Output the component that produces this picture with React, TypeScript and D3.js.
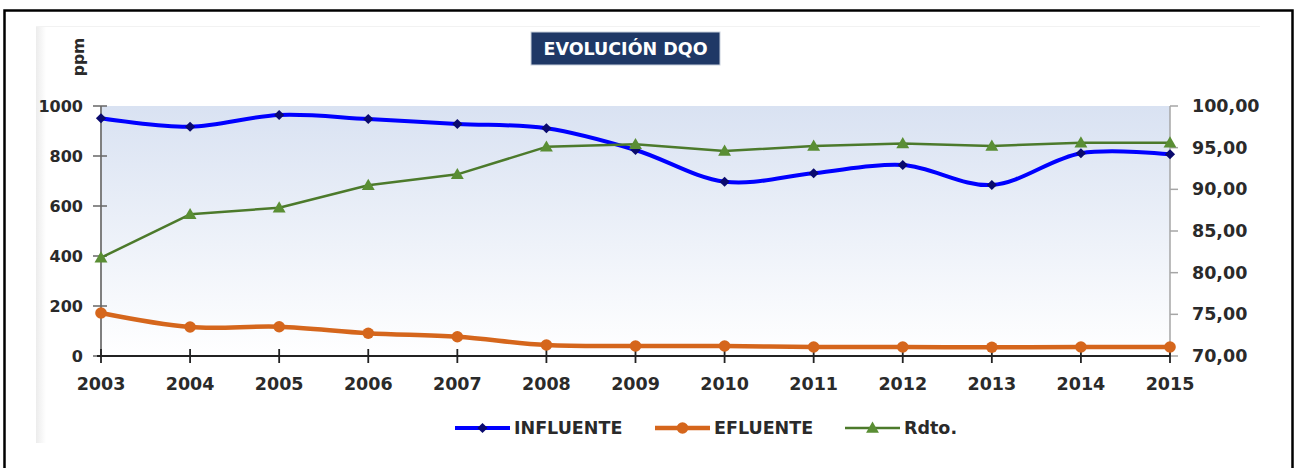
import React from 'react';
import * as d3 from 'd3';

const years = [2003, 2004, 2005, 2006, 2007, 2008, 2009, 2010, 2011, 2012, 2013, 2014, 2015];
const influente = [951, 917, 964, 948, 928, 911, 824, 697, 731, 764, 684, 811, 807];
const efluente = [172, 116, 117, 91, 77, 44, 40, 40, 36, 36, 35, 36, 36];
const rdto = [81.8, 87.0, 87.8, 90.5, 91.8, 95.1, 95.4, 94.6, 95.2, 95.5, 95.2, 95.6, 95.6];
const leftTicks = [0, 200, 400, 600, 800, 1000];
const rightTicks = [70, 75, 80, 85, 90, 95, 100];
const seriesNames = ['INFLUENTE', 'EFLUENTE', 'Rdto.'];
const title = 'EVOLUCIÓN DQO';
const yLabel = 'ppm';

const W = 1295;
const H = 468;
const FONT = 'DejaVu Sans, Verdana, sans-serif';
const BLUE = '#0000ff';
const NAVY = '#0a0a6e';
const ORANGE = '#d5661c';
const GREEN = '#4c7a2b';
const GREEN_M = '#5a8e34';
const TXT = '#2a2a2a';

export default function App() {
  const x = d3.scalePoint<number>().domain(years).range([101, 1170]);
  const yL = d3.scaleLinear().domain([0, 1000]).range([356, 106]);
  const yR = d3.scaleLinear().domain([70, 100]).range([356, 106]);
  const [x0, x1] = x.range();
  const [yb, yt] = yL.range();

  const smooth = d3.line<number>()
    .x((_, i) => x(years[i])!)
    .y((d) => yL(d))
    .curve(d3.curveCatmullRom.alpha(0.5));
  const lineR = d3.line<number>()
    .x((_, i) => x(years[i])!)
    .y((d) => yR(d));

  const diamond = d3.symbol(d3.symbolSquare, 52)();
  const tri = d3.symbol(d3.symbolTriangle, 72)();
  const fmtR = (v: number) => d3.format('.2f')(v).replace('.', ',');

  const legend = [
    { name: seriesNames[0], x: 455, color: BLUE, w: 4, kind: 'd' },
    { name: seriesNames[1], x: 655, color: ORANGE, w: 4.5, kind: 'c' },
    { name: seriesNames[2], x: 845, color: GREEN, w: 2.5, kind: 't' },
  ];
  const legY = 428;

  const marker = (kind: string, cx: number, cy: number, key: any) => {
    if (kind === 'd')
      return <path key={key} d={diamond!} transform={`translate(${cx},${cy}) rotate(45)`} fill={NAVY} />;
    if (kind === 'c') return <circle key={key} cx={cx} cy={cy} r={5.8} fill={ORANGE} />;
    return <path key={key} d={tri!} transform={`translate(${cx},${cy + 1})`} fill={GREEN_M} />;
  };

  return (
    <>
      <style>{`body{margin:0}`}</style>
      <svg width={W} height={H} style={{ display: 'block', background: '#fff' }} fontFamily={FONT}>
        <defs>
          <linearGradient id="plotbg" x1="0" y1="0" x2="0" y2="1">
            <stop offset="0" stopColor="#d9e2f2" />
            <stop offset="1" stopColor="#ffffff" />
          </linearGradient>
          <linearGradient id="strip" x1="0" y1="0" x2="1" y2="0">
            <stop offset="0" stopColor="#ececec" />
            <stop offset="1" stopColor="#ffffff" />
          </linearGradient>
        </defs>
        {/* outer border */}
        <rect x={4.5} y={10.5} width={1288} height={480} fill="none" stroke="#000" strokeWidth={2.5} />
        {/* inner chart area */}
        <rect x={36} y={26} width={10} height={417} fill="url(#strip)" />
        <line x1={36} x2={1260} y1={26.5} y2={26.5} stroke="#f2f2f2" strokeWidth={1} />
        {/* plot background */}
        <rect x={x0} y={yt} width={x1 - x0} height={yb - yt} fill="url(#plotbg)" />

        {/* title */}
        <rect x={531} y={32} width={189} height={33} fill="#1f3866" stroke="#c8cfdc" strokeWidth={1} />
        <text x={625.5} y={49} textAnchor="middle" dominantBaseline="central" fill="#fff" fontWeight="bold" fontSize={17.5}>
          {title}
        </text>

        {/* ppm */}
        <text transform={`translate(79,57) rotate(-90)`} textAnchor="middle" dominantBaseline="central" fill={TXT} fontWeight="bold" fontSize={15.5}>
          {yLabel}
        </text>

        {/* left axis */}
        <line x1={x0} x2={x0} y1={yt} y2={yb} stroke="#7f7f7f" strokeWidth={2} />
        {leftTicks.map((t) => (
          <g key={t}>
            <line x1={x0 - 8} x2={x0 + 6} y1={yL(t)} y2={yL(t)} stroke="#666" strokeWidth={1.5} />
            <text x={83} y={yL(t)} textAnchor="end" dominantBaseline="central" fill={TXT} fontWeight="bold" fontSize={16}>
              {t}
            </text>
          </g>
        ))}

        {/* right axis */}
        <line x1={x1} x2={x1} y1={yt} y2={yb} stroke="#a6a6a6" strokeWidth={1.5} />
        {rightTicks.map((t) => (
          <g key={t}>
            <line x1={x1} x2={x1 + 8} y1={yR(t)} y2={yR(t)} stroke="#a6a6a6" strokeWidth={1.5} />
            <text x={1192} y={yR(t)} textAnchor="start" dominantBaseline="central" fill={TXT} fontWeight="bold" fontSize={17.5}>
              {fmtR(t)}
            </text>
          </g>
        ))}

        {/* bottom axis */}
        <line x1={x0 - 4} x2={x1} y1={yb} y2={yb} stroke="#222" strokeWidth={2.2} />
        {years.map((yr) => (
          <g key={yr}>
            <line x1={x(yr)!} x2={x(yr)!} y1={yb - 7} y2={yb + 7} stroke="#222" strokeWidth={1.8} />
            <text x={x(yr)!} y={384} textAnchor="middle" dominantBaseline="central" fill={TXT} fontWeight="bold" fontSize={17.5}>
              {yr}
            </text>
          </g>
        ))}

        {/* INFLUENTE */}
        <path d={smooth(influente)!} fill="none" stroke={BLUE} strokeWidth={4} strokeLinejoin="round" />
        {influente.map((v, i) => marker('d', x(years[i])!, yL(v), 'i' + i))}

        {/* EFLUENTE */}
        <path d={smooth(efluente)!} fill="none" stroke={ORANGE} strokeWidth={4.5} strokeLinejoin="round" />
        {efluente.map((v, i) => marker('c', x(years[i])!, yL(v), 'e' + i))}

        {/* Rdto */}
        <path d={lineR(rdto)!} fill="none" stroke={GREEN} strokeWidth={2.5} strokeLinejoin="round" />
        {rdto.map((v, i) => marker('t', x(years[i])!, yR(v), 'r' + i))}

        {/* legend */}
        {legend.map((l) => (
          <g key={l.name}>
            <line x1={l.x} x2={l.x + 55} y1={legY} y2={legY} stroke={l.color} strokeWidth={l.w} />
            {marker(l.kind, l.x + 27.5, legY, 'm')}
            <text x={l.x + 59} y={legY} dominantBaseline="central" fill={TXT} fontWeight="bold" fontSize={17.5}>
              {l.name}
            </text>
          </g>
        ))}
      </svg>
    </>
  );
}
